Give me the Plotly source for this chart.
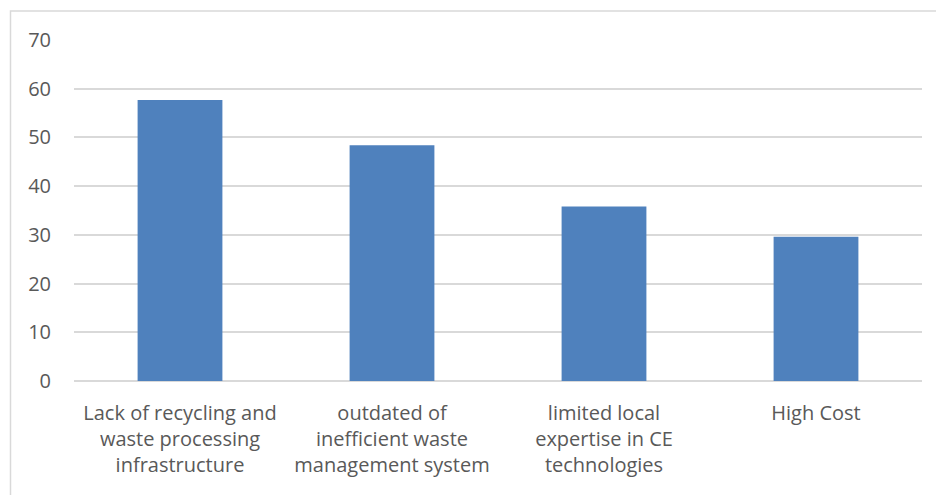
import plotly.graph_objects as go

categories = [
    "Lack of recycling and<br>waste processing<br>infrastructure",
    "outdated of<br>inefficient waste<br>management system",
    "limited local<br>expertise in CE<br>technologies",
    "High Cost",
]
values = [57.7, 48.4, 35.8, 29.6]
y_ticks = [0, 10, 20, 30, 40, 50, 60, 70]

L, R, T, B = 74, 14, 40, 114
W, H = 936, 495
pw, ph = W - L - R, H - T - B

FONT = "Open Sans, Carlito, Calibri, sans-serif"

fig = go.Figure(go.Bar(x=categories, y=values, marker=dict(color="#4f81bd", line=dict(width=0))))

fig.update_layout(
    width=W, height=H,
    margin=dict(l=L, r=R, t=T, b=B),
    paper_bgcolor="white", plot_bgcolor="white",
    bargap=0.6,
    showlegend=False,
    font=dict(family=FONT, size=20, color="#595959"),
    xaxis=dict(showgrid=False, showline=False, ticks="", tickangle=0,
               ticklabelstandoff=18,
               tickfont=dict(family=FONT, size=20, color="#595959")),
    yaxis=dict(range=[0, 70], tickvals=y_ticks, showgrid=True, gridcolor="#d9d9d9",
               gridwidth=1.5, zeroline=True, zerolinecolor="#d9d9d9", zerolinewidth=1.5,
               ticks="", ticklabelstandoff=22,
               tickfont=dict(family=FONT, size=20, color="#595959")),
    shapes=[dict(type="rect", xref="paper", yref="paper",
                 x0=(10.5 - L) / pw, x1=(W + 20 - L) / pw,
                 y0=(H - B - (H + 20)) / ph, y1=(H - B - 11) / ph,
                 line=dict(color="#d9d9d9", width=1.5), fillcolor="rgba(0,0,0,0)", layer="below")],
)

fig.write_html("out.html")
